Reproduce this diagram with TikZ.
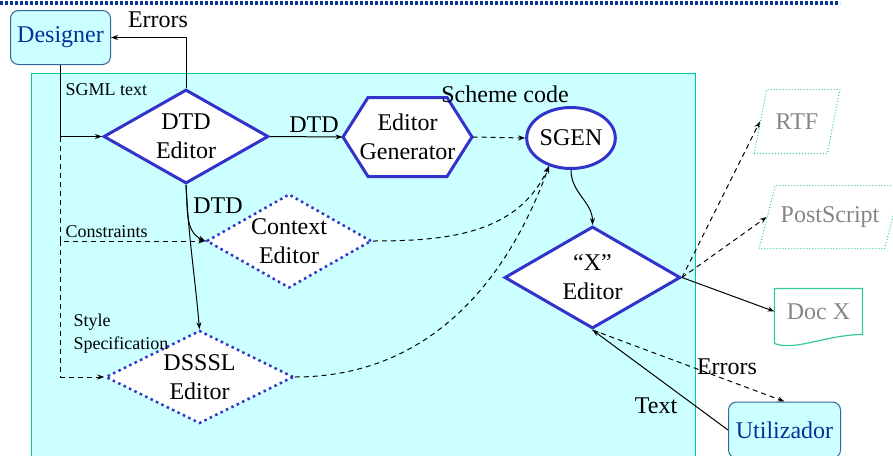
\documentclass[tikz,border=0pt]{standalone}
\usepackage{fontspec}
\setmainfont{Liberation Serif}
\usetikzlibrary{shapes.geometric,arrows.meta}

\definecolor{bgcyan}{HTML}{CCFFFF}
\definecolor{framegreen}{HTML}{00C896}
\definecolor{edblue}{HTML}{3333CC}
\definecolor{actorline}{HTML}{336699}
\definecolor{actortext}{HTML}{003399}
\definecolor{outgray}{HTML}{858585}
\definecolor{outline}{HTML}{33CC99}
\definecolor{bandblue}{HTML}{0A3399}

\begin{document}
\begin{tikzpicture}[x=1pt,y=-1pt,line width=1pt,>={Stealth[length=7pt,width=5pt]},
    bigtext/.style={font=\fontsize{24}{29}\selectfont},
    smalltext/.style={font=\fontsize{18}{23}\selectfont},
    lab/.style={inner sep=1pt},
    actor/.style={bigtext, draw=actorline, fill=bgcyan, text=actortext, rounded corners=8pt},
    editor/.style={bigtext, diamond, draw=edblue, fill=white, line width=3pt, inner sep=-12pt, align=center},
    doteditor/.style={editor, line width=2.5pt, dash pattern=on 2.5pt off 3.5pt},
    outdoc/.style={bigtext, text=outgray, align=center},
    dashline/.style={dash pattern=on 5pt off 4pt}]

    \useasboundingbox (0,0) rectangle (893,455);

    % Band at the top of the page
    \draw[bandblue, line width=4pt, dash pattern=on 3pt off 2pt] (0,2.5) -- (840,2.5);

    % Cyan area of the tools
    \draw[framegreen, fill=bgcyan] (31,470) -- (31,73) -- (695,73) -- (695,470);

    % Actors
    \node[actor, minimum width=100pt, minimum height=54pt] (designer) at (60.5,37.5) {Designer};
    \node[actor, minimum width=112pt, minimum height=56pt] (util) at (784.5,430) {Utilizador};

    % Editors
    \node[editor, minimum width=165pt, minimum height=94pt] (dtd) at (186,136.5) {DTD\\Editor};
    \node[doteditor, minimum width=165pt, minimum height=94pt] (ctx) at (289,241) {Context\\Editor};
    \node[doteditor, minimum width=188pt, minimum height=93pt] (dsssl) at (199.5,377) {DSSSL\\Editor};
    \node[editor, minimum width=176pt, minimum height=102pt] (xed) at (592.5,277.5) {``X''\\Editor};
    \coordinate (genc) at (407.5,137); % Hexagon of the generator, drawn under its text
    \draw[edblue, fill=white, line width=3pt] ([xshift=-64.5pt]genc) -- ([xshift=-39.5pt,yshift=39.5pt]genc)
        -- ([xshift=39.5pt,yshift=39.5pt]genc) -- ([xshift=64.5pt]genc)
        -- ([xshift=39.5pt,yshift=-39.5pt]genc) -- ([xshift=-39.5pt,yshift=-39.5pt]genc) -- cycle;
    \node[bigtext, align=center, inner sep=0pt, minimum width=129pt, minimum height=80pt] (gen) at (genc) {Editor\\Generator};
    \node[bigtext, ellipse, draw=edblue, fill=white, line width=3pt, inner sep=0pt,
          minimum width=85pt, minimum height=61pt] (sgen) at (571,138) {SGEN};

    % Outputs
    \node[outdoc, trapezium, trapezium left angle=74, trapezium right angle=106, trapezium stretches=true,
          draw=outline, dotted, inner xsep=-6pt, minimum width=86pt, minimum height=64pt] (rtf) at (797,121.5) {RTF};
    \node[outdoc, trapezium, trapezium left angle=66, trapezium right angle=114, trapezium stretches=true,
          draw=outline, dotted, inner xsep=-8pt, minimum width=142pt, minimum height=63pt] (ps) at (830,217) {PostScript};
    \node[outdoc, minimum width=87pt, minimum height=45pt] (docx) at (818.5,311.5) {Doc X};
    \draw[outline, line width=1.2pt] ([yshift=-9pt]docx.south west) -- (docx.north west) -- (docx.north east)
        -- (docx.south east) .. controls +(-35,0) and +(20,8) .. ([yshift=-9pt]docx.south west);

    % Designer to the editors
    \draw[->] (designer.south) |- (dtd.west);
    \draw[dashline,->] (designer.south |- dtd.west) |- (ctx.west);
    \draw[dashline,->] (designer.south |- ctx.west) |- (dsssl.west);
    \draw[->] (dtd.north) |- (designer.east);
    \node[smalltext, lab, anchor=west] (sgml) at (64,90) {SGML text};
    \node[smalltext, lab, anchor=west] (constr) at (64,232) {Constraints};
    \node[smalltext, lab, anchor=west, align=left] (stylespec) at (72,334) {Style\\Specification};
    \node[bigtext, lab] (errtop) at (158,20) {Errors};

    % DTD to the other editors
    \draw[->] (dtd.east) -- (gen.west);
    \node[bigtext, lab] (dtdlab) at (314,125) {DTD};
    \draw[->] (dtd.south) to[out=-85, in=155] (ctx.west);
    \draw[->] (dtd.south) to[out=-87, in=95] (dsssl.north);
    \node[bigtext, lab] (dtdlab2) at (218,206) {DTD};

    % Scheme code into SGEN
    \draw[dashline,->] (gen.east) -- (sgen.west);
    \draw[dashline,->] (ctx.east) to[out=0, in=-115] (sgen.-128);
    \draw[dashline,->] (dsssl.east) to[out=0, in=-110] (sgen.-128);
    \node[bigtext, lab] (scheme) at (505,94) {Scheme code};
    \draw[->] (sgen.south) to[out=-90, in=90] (xed.north);

    % "X" Editor outputs
    \draw[dashline,->] (xed.east) -- (rtf.west);
    \draw[dashline,->] (xed.east) -- (ps.west);
    \draw[->] (xed.east) -- (docx.west);

    % User
    \draw[->] (util.west) -- (xed.south);
    \draw[dashline,->] (xed.south) -- (util.north);
    \node[bigtext, lab] (textlab) at (656,406) {Text};
    \node[bigtext, lab] (errbot) at (727,367) {Errors};
\end{tikzpicture}
\end{document}
